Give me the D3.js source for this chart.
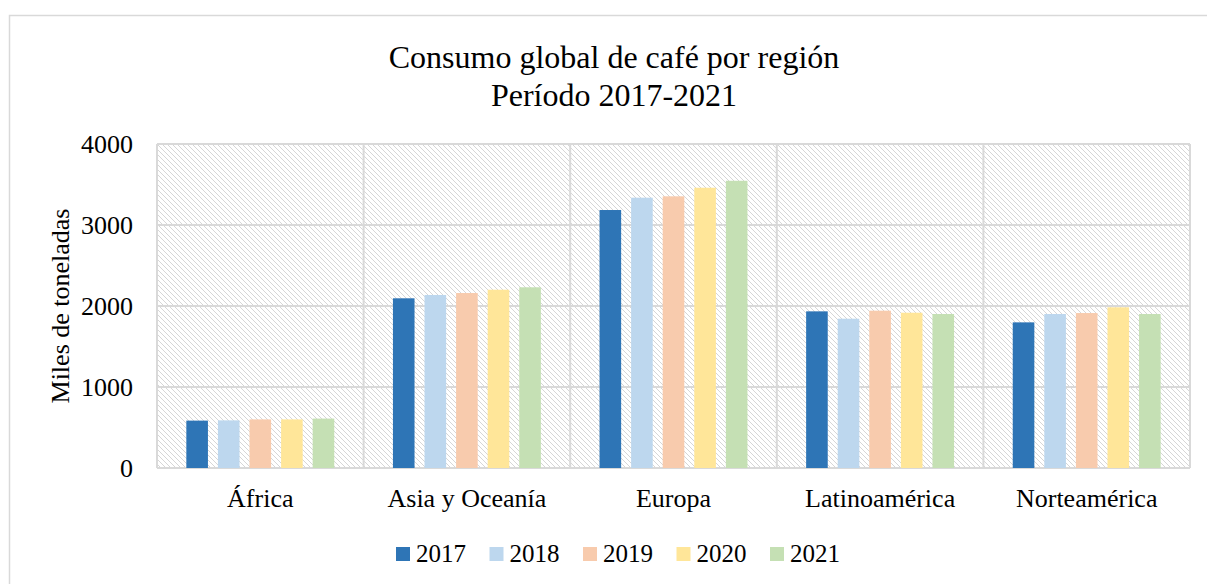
<!DOCTYPE html>
<html>
<head>
<meta charset="utf-8">
<script src="https://cdn.jsdelivr.net/npm/d3@7"></script>
<style>
  body { margin: 0; background: #fff; }
  svg, svg text { font-family: "Liberation Serif", "Times New Roman", serif; }
  svg { display: block; }
</style>
</head>
<body>
<div id="chartArea"></div>
<script>
const regions = ["África", "Asia y Oceanía", "Europa", "Latinoamérica", "Norteamérica"];
const years = ["2017", "2018", "2019", "2020", "2021"];
const yearColors = ["#2e75b6", "#bdd7ee", "#f8cbad", "#ffe699", "#c5e0b4"];
// values per year, in region order (miles de toneladas)
const v2017 = [585, 2095, 3185, 1934, 1798];
const v2018 = [588, 2136, 3337, 1843, 1901];
const v2019 = [600, 2160, 3354, 1942, 1913];
const v2020 = [600, 2201, 3460, 1917, 1984];
const v2021 = [610, 2231, 3546, 1901, 1901];
const yTicks = [0, 1000, 2000, 3000, 4000];

const seriesValues = [v2017, v2018, v2019, v2020, v2021];

const W = 1207, H = 584;
const margin = { top: 144, right: 17, bottom: 116, left: 157 },
    width = W - margin.left - margin.right,
    height = H - margin.top - margin.bottom;

const svg = d3.select("#chartArea").append("svg")
    .attr("width", W).attr("height", H);

// outer chart border
svg.append("rect")
    .attr("x", 9.5).attr("y", 15.5)
    .attr("width", W).attr("height", H)
    .attr("fill", "none").attr("stroke", "#d9d9d9").attr("stroke-width", 1.5);

// hatched plot background
const defs = svg.append("defs");
const pat = defs.append("pattern")
    .attr("id", "hatch").attr("patternUnits", "userSpaceOnUse")
    .attr("width", 5).attr("height", 5);
pat.append("rect").attr("width", 5).attr("height", 5).attr("fill", "#fff");
pat.append("path")
    .attr("d", "M-1,-1 L6,6 M-1,4 L1,6 M4,-1 L6,1")
    .attr("stroke", "#d6d6d6").attr("stroke-width", 1);

const g = svg.append("g").attr("transform", `translate(${margin.left},${margin.top})`);

const x = d3.scaleBand().domain(regions).range([0, width]).padding(0);
const y = d3.scaleLinear().domain([0, 4000]).range([height, 0]);
const inner = d3.scaleBand().domain(years)
    .range([x.bandwidth() * 0.142, x.bandwidth() * 0.858])
    .paddingInner(0.316).paddingOuter(0);

g.append("rect")
    .attr("width", width).attr("height", height)
    .attr("fill", "url(#hatch)");

// horizontal gridlines
g.selectAll(".hgrid").data(yTicks).enter().append("line")
    .attr("x1", 0).attr("x2", width)
    .attr("y1", d => y(d)).attr("y2", d => y(d))
    .attr("stroke", "#d9d9d9").attr("stroke-width", 2);

// vertical category separators
const bounds = regions.map(r => x(r)).concat([width]);
g.selectAll(".vgrid").data(bounds).enter().append("line")
    .attr("x1", d => d).attr("x2", d => d)
    .attr("y1", 0).attr("y2", height)
    .attr("stroke", "#d9d9d9").attr("stroke-width", 2);

// bars
const barData = [];
regions.forEach((r, i) => {
    years.forEach((yr, j) => {
        barData.push({ region: r, year: yr, value: seriesValues[j][i], color: yearColors[j] });
    });
});

g.selectAll(".bar").data(barData).enter().append("rect")
    .attr("x", d => x(d.region) + inner(d.year))
    .attr("y", d => y(d.value))
    .attr("width", inner.bandwidth())
    .attr("height", d => height - y(d.value))
    .attr("fill", d => d.color);

// y axis labels
const yAxis = g.append("g")
    .call(d3.axisLeft(y).tickValues(yTicks).tickSize(0).tickPadding(24).tickFormat(d3.format("d")));
yAxis.attr("font-family", "Liberation Serif").attr("font-size", 26);
yAxis.select(".domain").remove();
yAxis.selectAll("text").attr("fill", "#000");

// x axis labels
const xAxis = g.append("g").attr("transform", `translate(0,${height})`)
    .call(d3.axisBottom(x).tickSize(0).tickPadding(21));
xAxis.attr("font-family", "Liberation Serif").attr("font-size", 26);
xAxis.select(".domain").remove();
xAxis.selectAll("text").attr("fill", "#000");

// title
svg.append("text")
    .attr("x", 614).attr("y", 68).attr("text-anchor", "middle")
    .style("font-size", "32px").text("Consumo global de café por región");
svg.append("text")
    .attr("x", 614).attr("y", 106).attr("text-anchor", "middle")
    .style("font-size", "32px").text("Período 2017-2021");

// y axis title
svg.append("text")
    .attr("transform", "translate(69,306) rotate(-90)")
    .attr("text-anchor", "middle")
    .style("font-size", "26px").text("Miles de toneladas");

// legend
const legend = svg.append("g").attr("transform", "translate(396,547)");
const item = legend.selectAll(".item").data(years).enter().append("g")
    .attr("transform", (d, i) => `translate(${i * 93.5},0)`);
item.append("rect").attr("width", 14).attr("height", 14)
    .attr("fill", (d, i) => yearColors[i]);
item.append("text").attr("x", 20).attr("y", 15)
    .style("font-size", "25px").text(d => d);
</script>
</body>
</html>
